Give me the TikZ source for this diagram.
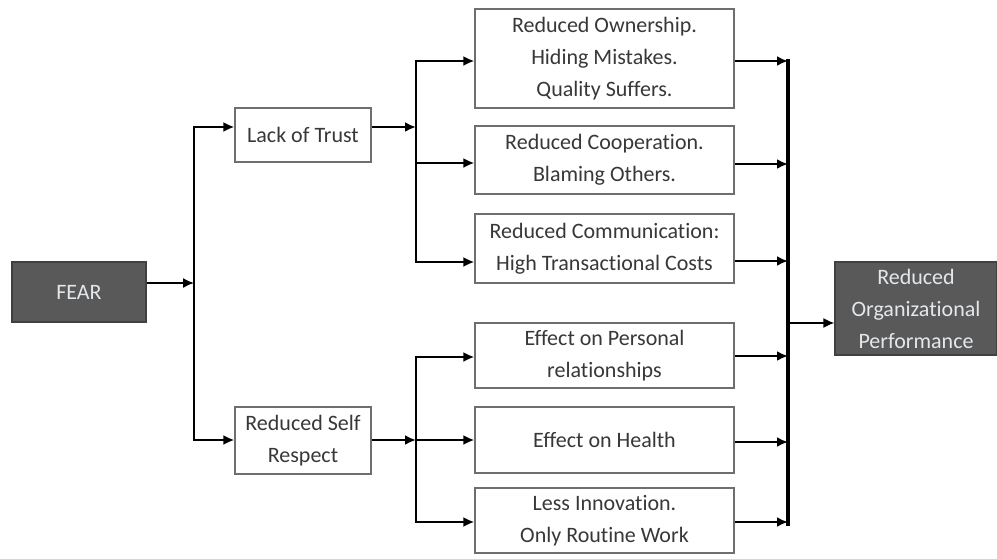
\documentclass[tikz,border=0pt]{standalone}
\usepackage{fontspec}
\setmainfont{Carlito}[Ligatures={NoCommon}]
\usetikzlibrary{arrows.meta}
\definecolor{boxline}{HTML}{6E6E6E}
\definecolor{txt}{HTML}{383838}
\definecolor{darkfill}{HTML}{595959}
\definecolor{darkline}{HTML}{404040}
\definecolor{lighttxt}{HTML}{E4E8EC}
\begin{document}
\begin{tikzpicture}[x=1pt,y=-1pt,
  box/.style={draw=boxline, line width=1.2pt, fill=white, text=txt, align=center,
    inner sep=0pt, font=\fontsize{22}{32}\selectfont},
  darkbox/.style={box, draw=darkline, fill=darkfill, text=lighttxt},
  arr/.style={-{Latex[length=11pt,width=10pt]}, line width=2.2pt, line join=miter},
  thinarr/.style={arr, line width=1.5pt},
  bigtrunk/.style={line width=3.5pt},
]
\useasboundingbox (0,0) rectangle (997,558);

% source and target
\node[darkbox, minimum width=134pt, minimum height=60pt] (fear) at (79,292) {FEAR};
\node[darkbox, minimum width=162pt, minimum height=93pt] (rop) at (916,308.5)
  {Reduced\\Organizational\\Performance};

% first level
\node[box, minimum width=136pt, minimum height=54pt] (lot) at (303,135) {Lack of Trust};
\node[box, minimum width=136pt, minimum height=67pt] (rsr) at (303,440.5) {Reduced Self\\Respect};

% consequences
\node[box, minimum width=259pt, minimum height=99pt] (b1) at (604.5,58.5)
  {Reduced Ownership.\\Hiding Mistakes.\\Quality Suffers.};
\node[box, minimum width=259pt, minimum height=68pt] (b2) at (604.5,160)
  {Reduced Cooperation.\\Blaming Others.};
\node[box, minimum width=259pt, minimum height=69pt] (b3) at (604.5,248.5)
  {Reduced Communication:\\High Transactional Costs};
\node[box, minimum width=259pt, minimum height=65pt] (b4) at (604.5,355.5)
  {Effect on Personal\\relationships};
\node[box, minimum width=259pt, minimum height=66pt] (b5) at (604.5,440)
  {Effect on Health};
\node[box, minimum width=259pt, minimum height=65pt] (b6) at (604.5,520.5)
  {Less Innovation.\\Only Routine Work};

% branching points
\coordinate (jf) at (194,283);
\coordinate (jt) at (194,127);
\coordinate (jb) at (194,440);
\coordinate (u) at (416,127);
\coordinate (v) at (416,440);
\coordinate (r1) at (416,61);
\coordinate (r2) at (416,163);
\coordinate (r3) at (416,262);
\coordinate (r4) at (416,357);
\coordinate (r6) at (416,522);
\coordinate (s1) at (788,61);
\coordinate (s2) at (788,164);
\coordinate (s3) at (788,261);
\coordinate (s4) at (788,356);
\coordinate (s5) at (788,442);
\coordinate (s6) at (788,522);
\coordinate (sm) at (788,323);

% fear splits into two
\draw[thinarr] (fear.east |- jf) -- (jf);
\draw[arr] (jf) |- (lot.west |- jt);
\draw[arr] (jf) |- (rsr.west |- jb);

% lack of trust branch
\draw[arr] (lot.east |- u) -- (u);
\draw[arr] (u) |- (b1.west |- r1);
\draw[arr] (r2) -- (b2.west |- r2);
\draw[arr] (u) |- (b3.west |- r3);

% self respect branch
\draw[arr] (rsr.east |- v) -- (v);
\draw[arr] (v) |- (b4.west |- r4);
\draw[arr] (v) -- (b5.west |- v);
\draw[arr] (v) |- (b6.west |- r6);

% all consequences merge
\foreach \b/\s in {b1/s1,b2/s2,b3/s3,b4/s4,b5/s5,b6/s6}
  \draw[arr] (\b.east |- \s) -- (\s);
\draw[bigtrunk] ([yshift=2pt]s1) -- ([yshift=-4pt]s6);
\draw[thinarr] (sm) -- (rop.west |- sm);
\end{tikzpicture}
\end{document}
